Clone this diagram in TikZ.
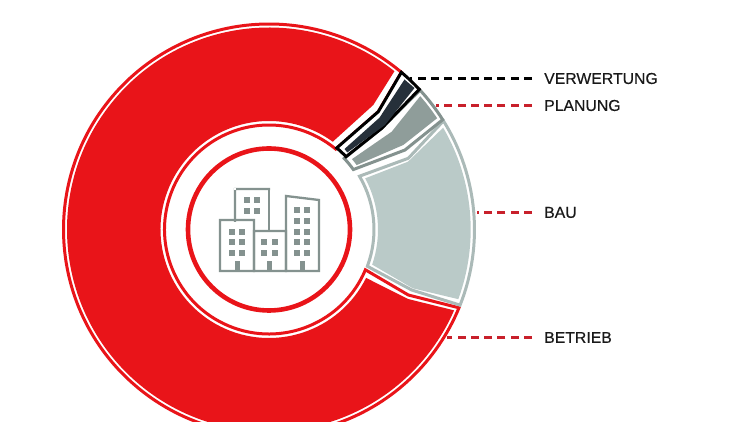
\documentclass[tikz,border=0pt]{standalone}
\usepackage{fontspec}
\setmainfont{Liberation Sans}[FakeBold=0.35]
\definecolor{mainred}{HTML}{E91419}
\definecolor{leadred}{HTML}{C8202B}
\definecolor{lightfill}{HTML}{BACAC8}
\definecolor{greyfill}{HTML}{8F9D9A}
\definecolor{darkfill}{HTML}{26303A}
\definecolor{bld}{HTML}{84928F}
\tikzset{
  edge/.style={line width=3pt,line join=miter,fill=white},
  lab/.style={anchor=west,inner xsep=12pt,inner ysep=0pt,font=\fontsize{15.8}{18}\selectfont,text=black!90},
  lead/.style={line width=2.6pt,dash pattern=on 8pt off 5.3pt},
  wall/.style={draw=bld,line width=2.3pt,line join=miter},
  strip/.style={fill=bld,even odd rule},
  win/.style={fill=bld}
}
\begin{document}
\begin{tikzpicture}[x=1pt,y=1pt]
\useasboundingbox (0,0) rectangle (750,422);
\clip (0,0) rectangle (750,422);
\fill[white] (0,0) rectangle (750,422);
\begin{scope}[shift={(269,192.5)}]
% red sector
\draw[edge,draw=mainred] (49.9:205.5) arc[start angle=49.9,end angle=337.6,radius=205.5] -- (139.3,-65.5) -- (-22.7:104.5) arc[start angle=-22.7,end angle=-309.7,radius=104.5] -- (109.3,117.8) -- cycle;
\fill[mainred] (51.6:202) arc[start angle=51.6,end angle=336.4,radius=202] -- (139,-69.5) -- (-26.5:108.5) arc[start angle=-26.5,end angle=-306,radius=108.5] -- (104.3,124.5) -- cycle;
% light sector
\draw[edge,draw=lightfill!92!black] (31.9:205.5) arc[start angle=31.9,end angle=-21.6,radius=205.5] -- (142.7,-60.5) -- (-20.5:105) arc[start angle=-20.5,end angle=30.5,radius=105] -- (139.3,71.2) -- cycle;
\fill[lightfill] (30.3:201.7) arc[start angle=30.3,end angle=-20.2,radius=201.7] -- (143.7,-58.8) -- (-18.8:109) arc[start angle=-18.8,end angle=28,radius=109] -- (139,67.8) -- cycle;
% grey sector
\draw[edge,draw=bld] (42.7:205.5) arc[start angle=42.7,end angle=32.3,radius=205.5] -- (136,79.5) -- (35.4:103.5) arc[start angle=35.4,end angle=43.4,radius=103.5] -- (112.7,101.2) -- cycle;
\fill[greyfill] (41.4:201.6) arc[start angle=41.4,end angle=33.5,radius=201.6] -- (134.3,84.5) -- (36.3:108.8) arc[start angle=36.3,end angle=40.3,radius=108.8] -- (122.7,97.8) -- cycle;
% dark sector
\draw[edge,draw=black] (49.9:205.5) arc[start angle=49.9,end angle=43,radius=205.5] -- (112.7,101.2) -- (43.4:106) arc[start angle=43.4,end angle=50.3,radius=106] -- (109.3,117.8) -- cycle;
\fill[darkfill] (135.5,150) -- (145.5,141.5) -- (116,104.5) -- (78.3,77) -- (75.5,80.5) -- (110.5,111.8) -- cycle;
\end{scope}
% centre ring
\draw[mainred,line width=4.6pt] (269,192.5) circle[radius=81];
% building
\fill[strip] (233.9,200) rectangle (236.1,234.1) (233.9,231.9) rectangle (270.1,234.1) ;
\fill[bld] (267.9,190) rectangle (270.1,234.1);
\fill[strip] (218.9,149.9) rectangle (255.1,203.1) (221.1,152.1) rectangle (252.9,200.9);
\fill[strip] (252.9,149.9) rectangle (287.1,192.1) (255.1,152.1) rectangle (284.9,189.9);
\draw[wall] (286,151) -- (286,226) -- (319,222) -- (319,151) -- cycle;
\foreach \x in {232,242}{\foreach \y in {232,242,253}{\fill[win] (\x-2.7,422-\y-2.7) rectangle ++(5.4,5.4);}}
\foreach \x in {247,257}{\foreach \y in {200,211}{\fill[win] (\x-2.7,422-\y-2.7) rectangle ++(5.4,5.4);}}
\foreach \x in {264,275}{\foreach \y in {242,253}{\fill[win] (\x-2.7,422-\y-2.7) rectangle ++(5.4,5.4);}}
\foreach \x in {297,307}{\foreach \y in {210,221,232,242,253}{\fill[win] (\x-2.7,422-\y-2.7) rectangle ++(5.4,5.4);}}
\foreach \x in {237,269,302}{\fill[win] (\x-2.5,151) rectangle ++(5,10);}
% labels and leaders
\node[lab] (verw) at (532,343.5) {VERWERTUNG};
\node[lab] (plan) at (532,316.5) {PLANUNG};
\node[lab] (bau) at (532,209.5) {BAU};
\node[lab] (betr) at (532,84.5) {BETRIEB};
\coordinate (vend) at (410,343.5);
\coordinate (pend) at (436,316.5);
\coordinate (bend) at (477,209.5);
\coordinate (tend) at (447,84.5);
\draw[lead,black] (verw.west) -- (vend);
\draw[lead,leadred] (plan.west) -- (pend);
\draw[lead,leadred] (bau.west) -- (bend);
\draw[lead,leadred] (betr.west) -- (tend);
\end{tikzpicture}
\end{document}
